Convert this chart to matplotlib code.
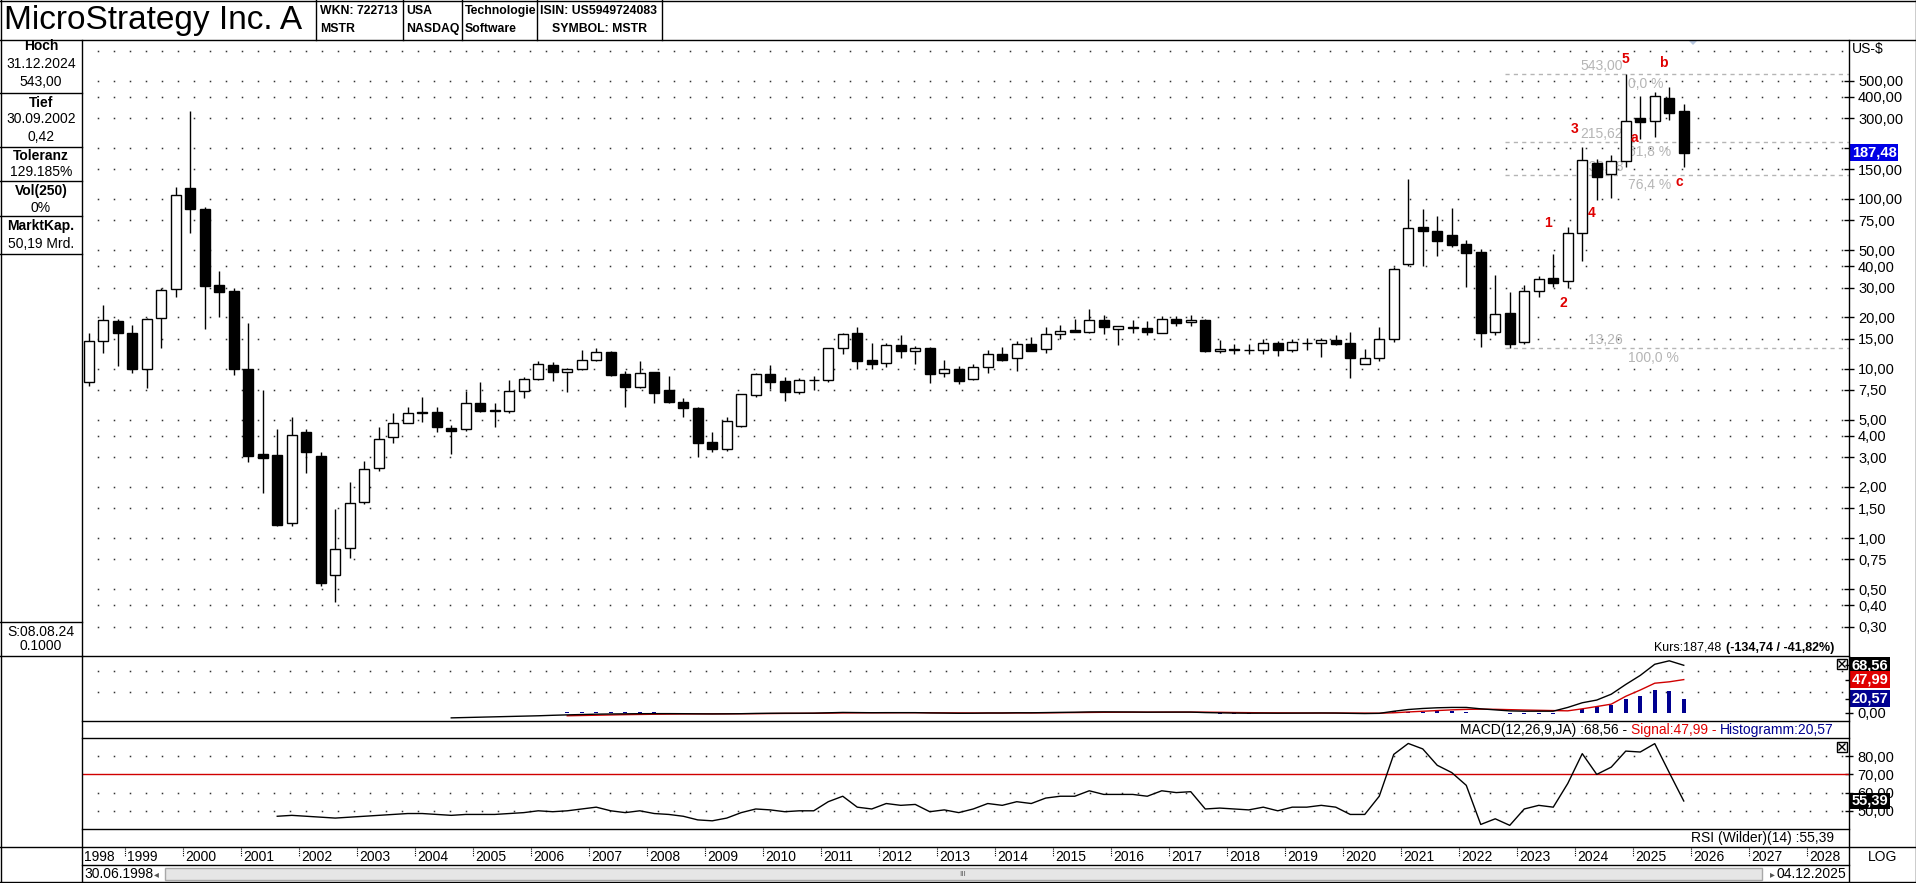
import numpy as np
import matplotlib
matplotlib.use("Agg")
import matplotlib.pyplot as plt
from matplotlib.lines import Line2D
from matplotlib.patches import Rectangle, Polygon

W, H = 1916, 883
plt.rcParams['font.family'] = ['Liberation Sans', 'DejaVu Sans']

# ---- quarterly candles, 1998 Q2 .. 2025 Q4 (split adjusted, US-$) ----
first_year = 1998
first_quarter = 2
opens = [8.3, 14.6, 19.1, 16.3, 9.9, 19.8, 29.3, 116.6, 86.9, 31.0,
         28.6, 9.89, 3.13, 3.09, 1.22, 4.20, 3.05, 0.605, 0.877, 1.62,
         2.60, 3.94, 4.79, 5.49, 5.56, 4.44, 4.38, 6.28, 5.70, 5.62,
         7.37, 8.67, 10.5, 9.50, 10.0, 11.2, 12.5, 9.24, 7.75, 9.50,
         7.47, 6.32, 5.82, 3.67, 3.34, 4.60, 6.98, 9.24, 8.44, 7.30,
         8.50, 8.50, 13.3, 16.1, 11.2, 10.8, 13.8, 12.7, 13.3, 9.37,
         10.0, 8.64, 10.2, 12.1, 11.5, 13.9, 13.0, 15.9, 16.9, 16.5,
         19.3, 17.2, 17.3, 17.3, 16.3, 19.5, 18.8, 19.2, 12.7, 13.1,
         12.9, 12.8, 14.1, 12.8, 14.2, 14.1, 14.7, 14.1, 10.7, 11.6,
         14.9, 41.4, 68.1, 65.0, 61.3, 54.3, 48.9, 16.5, 21.2, 14.3,
         28.7, 34.1, 33.0, 63.0, 162.5, 139.9, 167.5, 299, 290, 393,
         330]
highs = [16.1, 23.6, 19.5, 18.1, 19.8, 29.7, 118, 332, 90.1, 37.8,
         29.7, 18.6, 7.47, 4.40, 5.2, 4.40, 3.23, 1.48, 2.15, 2.85,
         4.50, 5.44, 5.95, 6.82, 5.95, 4.64, 7.37, 8.36, 6.28, 8.55,
         8.95, 11.0, 10.9, 10.1, 12.9, 13.3, 12.6, 9.67, 11.1, 9.6,
         9.03, 6.67, 5.9, 4.2, 5.15, 7.1, 9.45, 10.5, 8.87, 8.8,
         9.0, 13.3, 16.1, 17.5, 14.1, 14.1, 15.8, 13.5, 13.4, 11.3,
         10.3, 10.7, 12.9, 13.4, 14.5, 15.3, 17.5, 18.1, 19.6, 22.4,
         20.7, 17.8, 19.3, 19.0, 20.4, 20.4, 20.6, 19.6, 14.7, 14.0,
         13.9, 15.0, 14.6, 14.9, 15.1, 15.1, 15.7, 16.4, 13.0, 17.5,
         39.5, 131, 86.9, 79.4, 88.2, 57.3, 50.5, 35.6, 28.4, 31.1,
         35.1, 47.2, 68.1, 202, 171.5, 181, 543, 405, 430, 456,
         364]
lows = [7.9, 12.3, 10.3, 9.37, 7.64, 13.2, 26.5, 63.3, 17.1, 20.2,
        9.16, 2.80, 1.84, 1.18, 1.18, 2.41, 0.52, 0.42, 0.76, 1.59,
        2.48, 3.62, 4.75, 4.86, 4.24, 3.12, 4.30, 5.55, 4.53, 5.50,
        6.67, 8.6, 8.47, 7.30, 9.8, 11.1, 9.05, 5.95, 7.7, 6.28,
        6.3, 5.2, 2.99, 3.22, 3.27, 4.5, 6.76, 7.57, 6.46, 7.1,
        7.47, 8.36, 12.2, 9.9, 9.9, 10.2, 11.5, 10.7, 8.25, 8.95,
        8.10, 8.55, 9.37, 11.0, 9.7, 12.6, 12.4, 14.9, 16.4, 16.3,
        16.0, 13.8, 16.3, 15.7, 16.2, 17.9, 17.9, 12.5, 12.3, 12.1,
        12.2, 12.2, 11.8, 12.5, 12.9, 11.7, 13.7, 8.83, 10.6, 11.1,
        14.3, 40.4, 40.4, 46.1, 52.0, 30.1, 13.4, 15.7, 13.26, 13.9,
        26.3, 30.4, 29.9, 43.3, 98.7, 101, 155, 226, 233, 292,
        154]
closes = [14.6, 19.3, 16.3, 10.0, 19.6, 29.0, 105.6, 87.3, 30.8, 28.2,
          9.89, 3.05, 2.95, 1.20, 4.04, 3.22, 0.54, 0.86, 1.60, 2.55,
          3.82, 4.79, 5.49, 5.52, 4.50, 4.30, 6.28, 5.64, 5.60, 7.37,
          8.67, 10.6, 9.58, 10.0, 11.2, 12.5, 9.16, 7.81, 9.37, 7.20,
          6.37, 5.82, 3.62, 3.34, 4.92, 7.04, 9.24, 8.36, 7.30, 8.55,
          8.55, 13.2, 15.9, 11.1, 10.6, 13.8, 12.7, 13.3, 9.24, 9.9,
          8.47, 10.2, 12.1, 11.2, 13.9, 12.7, 15.9, 16.6, 16.5, 19.3,
          17.6, 17.7, 17.5, 16.5, 19.5, 18.5, 19.2, 12.7, 13.1, 12.9,
          12.8, 14.1, 12.8, 14.3, 14.2, 14.7, 13.9, 11.6, 11.6, 14.9,
          38.5, 67.2, 65.0, 56.8, 53.5, 47.8, 16.1, 21.0, 13.9, 28.8,
          33.6, 32.1, 62.8, 170, 135.4, 167.5, 288.6, 286, 405, 320.5,
          187.48]

nan = np.nan
# MACD(12,26,9) starts at 2004 Q3, signal/histogram at 2006 Q3
macd = [nan] * 25 + [
    -7, -6.5, -6, -5.5, -5, -4.5, -4, -3.3, -2.7, -2.2,
    -1.7, -1.4, -1.2, -1, -0.9, -0.9, -1, -1.2, -1.3, -1.2,
    -1, -0.6, -0.4, -0.3, -0.3, -0.2, 0.3, 0.8, 0.6, 0.4,
    0.5, 0.5, 0.5, 0.1, -0.1, -0.4, -0.3, 0, 0, 0.3,
    0.3, 0.6, 0.9, 1.1, 1.5, 1.6, 1.5, 1.4, 1.2, 1.3,
    1.3, 1.3, 0.6, 0.2, -0.1, -0.3, -0.2, -0.3, -0.2, -0.1,
    0, -0.1, -0.5, -0.8, -0.5, 2.5, 5, 6.5, 7.5, 8,
    8, 6, 4.5, 3, 2.6, 2.6, 2.6, 8, 14.7, 18.6,
    27, 41, 54, 70, 75, 68.56]
signal = [nan] * 33 + [
    -4, -3.6, -3.2, -2.8, -2.4, -2.1, -1.8, -1.6, -1.4, -1.3,
    -1.3, -1.2, -1.1, -1, -0.8, -0.6, -0.5, -0.4, -0.2, 0.1,
    0.2, 0.3, 0.3, 0.4, 0.4, 0.3, 0.2, 0.1, 0, 0,
    0, 0.1, 0.1, 0.2, 0.4, 0.6, 0.8, 1, 1.1, 1.2,
    1.2, 1.2, 1.3, 1.3, 1.2, 1, 0.7, 0.5, 0.3, 0.2,
    0.1, 0, 0, 0, -0.1, -0.2, -0.3, 0.3, 1.5, 2.5,
    3.5, 4.5, 5.2, 5.5, 5.3, 4.8, 4.3, 3.9, 3.5, 3.1,
    6, 9.3, 12.7, 24, 33, 42.8, 44.8, 47.99]
hist = [nan] * 33 + [
    1.3, 1.4, 1.5, 1.4, 1.2, 1.1, 0.9, 0.7, 0.4, 0.1,
    0, 0, 0.1, 0.4, 0.4, 0.3, 0.2, 0.2, 0.5, 0.7,
    0.4, 0.1, 0.2, 0.1, 0.1, -0.2, -0.3, -0.5, -0.3, 0,
    0, 0.2, 0.2, 0.4, 0.5, 0.5, 0.7, 0.6, 0.4, 0.2,
    0, 0.1, 0, 0, -0.6, -0.8, -0.8, -0.8, -0.5, -0.5,
    -0.3, -0.1, 0, -0.1, -0.4, -0.6, -0.2, 2.2, 2, 2,
    2.8, 2.8, 1.6, 0.5, -0.5, -1.5, -1.5, -1.3, -0.9, 0.5,
    5.7, 9, 12, 20, 25, 33, 31, 20.57]
rsi = [nan] * 13 + [
    47, 47.5, 47, 46.5, 46, 46.5, 47, 47.5,
    48, 48.5, 48.5, 48, 47.5, 48, 48, 48, 48.5, 49,
    50, 49.5, 50, 51, 52, 50, 49, 50, 48.5, 48,
    47, 45, 44.5, 46, 49, 51, 50.5, 49.5, 50, 50,
    55, 58, 52, 51, 54, 53, 53.5, 49.5, 50.5, 49,
    51, 54, 53, 55, 54, 57, 58, 58, 61, 59,
    59, 59, 58, 61, 60, 60.5, 51, 51.5, 51, 50.5,
    52, 50, 52, 52, 53, 52, 48, 48, 58, 81,
    87, 84, 75, 71, 64, 42.5, 45.6, 42, 51, 53,
    52, 65, 81.4, 70, 74, 82.8, 82.3, 86.9, 71, 55.39]

# Fibonacci retracement 13,26 -> 543,00
fib_prices = [543.00, 215.62, 138.28, 13.26]
fib_pcts = ['0,0 %', '61,8 %', '76,4 %', '100,0 %']
fib_start = 2022.8

# Elliott wave counts
wave_names = ['1', '2', '3', '4', '5', 'a', 'b', 'c']
wave_x = [2023.53, 2023.79, 2024.0, 2024.29, 2024.87, 2025.02, 2025.53, 2025.79]
wave_y = [72.2, 24.3, 259, 82.7, 670, 230, 635, 126]

price_ticks = [0.3, 0.4, 0.5, 0.75, 1, 1.5, 2, 3, 4, 5, 7.5, 10, 15, 20, 30,
               40, 50, 75, 100, 150, 200, 300, 400, 500]
grid_levels = price_ticks + [750]
years = list(range(1999, 2029))
last_price = 187.48


def fmt(v):
    return f"{v:.2f}".replace('.', ',')


def yr(px):
    # pixel column -> time (years); 2000 starts at px 183, 58 px per year
    return 2000 + (px - 183) / 58.0


fig = plt.figure(figsize=(W / 100, H / 100), dpi=100)
fig.patch.set_facecolor('white')


def add_ax(x0, y0, x1, y1):
    a = fig.add_axes([x0 / W, 1 - y1 / H, (x1 - x0) / W, (y1 - y0) / H])
    for s in a.spines.values():
        s.set_visible(False)
    a.set_xlim(yr(x0), yr(x1))
    a.set_xticks([])
    a.patch.set_alpha(0)
    return a


def fline(x0, y0, x1, y1, color='k', lw=1, **kw):
    fig.add_artist(Line2D([x0 / W, x1 / W], [1 - y0 / H, 1 - y1 / H],
                          color=color, lw=lw, **kw))


def ftext(x, y, s, **kw):
    return fig.text(x / W, 1 - y / H, s, **kw)


def dots(a, levels):
    xs = np.array([yr(p) for p in range(98, 1845, 16)])
    xg = np.array([yr(p + 8) for p in range(90, 1845, 16)])
    for lv in levels:
        a.plot(xg, [lv] * len(xg), ls='none', marker='s', ms=1.6,
               mfc='#dcdcdc', mec='none', zorder=0.5)
        a.plot(xs, [lv] * len(xs), ls='none', marker='s', ms=1.0,
               mfc='#333333', mec='none', zorder=0.6)


n = len(opens)
qx = first_year + (first_quarter - 1) * 0.25 + 0.125 + 0.25 * np.arange(n)
o = np.array(opens)
h = np.array(highs)
l = np.array(lows)
c = np.array(closes)

# ---------------- main price chart ----------------
ax = add_ax(82, 40, 1849, 656)
ax.set_yscale('log')
ax.set_ylim(10 ** ((538 - 656) / 169.5), 10 ** ((538 - 40) / 169.5))
ax.yaxis.tick_right()
# the 200,00 label sits under the last-price box
ax.set_yticks(price_ticks, labels=['' if v == 200 else fmt(v) for v in price_ticks])
ax.minorticks_off()
ax.tick_params(axis='y', direction='inout', length=7, width=1, labelsize=10.5, pad=3)
dots(ax, grid_levels)

ax.hlines(fib_prices, fib_start, yr(1849), colors='#b5b5b5',
          linestyles=(0, (3, 3)), lw=1, zorder=1)
for p, pct in zip(fib_prices, fib_pcts):
    ax.annotate(fmt(p), (yr(1623), p), xytext=(0, 8), textcoords='offset pixels',
                ha='right', va='center', color='#b5b5b5', fontsize=10, zorder=1)
    ax.annotate(pct, (yr(1628), p), xytext=(0, -10), textcoords='offset pixels',
                ha='left', va='center', color='#b5b5b5', fontsize=10, zorder=1)

up = c >= o
ax.vlines(qx, l, h, color='k', lw=1, zorder=3)
ax.bar(qx, np.abs(c - o), bottom=np.minimum(o, c), width=0.17,
       color=np.where(up, 'white', 'black'), edgecolor='k', linewidth=1, zorder=4)

for name, wx, wy in zip(wave_names, wave_x, wave_y):
    ax.text(wx, wy, name, color='#e00000', fontsize=10, fontweight='bold',
            ha='center', va='center', zorder=5)

ax.text(1.0015, last_price, fmt(last_price), transform=ax.get_yaxis_transform(),
        ha='left', va='center', color='white', fontweight='bold', fontsize=10.5,
        bbox=dict(boxstyle='square,pad=0.1', fc='#0000e6', ec='none'),
        zorder=10, clip_on=False)
ftext(1852, 49, 'US-$', fontsize=10, va='center')
fig.add_artist(Polygon([[1688 / W, 1 - 40 / H], [1698 / W, 1 - 40 / H], [1693 / W, 1 - 45 / H]],
                       closed=True, transform=fig.transFigure, fc='#b8c8e0', ec='none'))

# ---------------- MACD ----------------
mac = add_ax(82, 656, 1849, 721)
mac.set_ylim(-11.5, 81.9)
mac.yaxis.tick_right()
mac.set_yticks([0, 20.57, 47.99, 68.56], labels=['0,00', '', '', ''])
mac.tick_params(axis='y', direction='inout', length=6, width=1, labelsize=10.5, pad=3)
dots(mac, [30, 60])
mac.bar(qx, hist, width=0.07, color='#000090', zorder=3)
mac.plot(qx, signal, color='#d00000', lw=1, zorder=4)
mac.plot(qx, macd, color='k', lw=1, zorder=5)
for v, col in [(68.56, 'black'), (47.99, '#e00000'), (20.57, '#000090')]:
    mac.text(1.0015, v, fmt(v), transform=mac.get_yaxis_transform(), ha='left',
             va='center', color='white', fontweight='bold', fontsize=10.5,
             bbox=dict(boxstyle='square,pad=0.1', fc=col, ec='none'),
             zorder=10, clip_on=False)

# ---------------- RSI ----------------
rs = add_ax(82, 738, 1849, 829)
rs.set_ylim(40, 90)
rs.yaxis.tick_right()
rs.set_yticks([50, 60, 70, 80], labels=['50,00', '60,00', '70,00', '80,00'])
rs.tick_params(axis='y', direction='inout', length=6, width=1, labelsize=10.5, pad=3)
dots(rs, [50, 60, 80])
rs.axhline(70, color='#d00000', lw=1, zorder=2)
rs.plot(qx, rsi, color='k', lw=1, zorder=4)
rs.text(1.0015, 55.39, '55,39', transform=rs.get_yaxis_transform(), ha='left',
        va='center', color='white', fontweight='bold', fontsize=10.5,
        bbox=dict(boxstyle='square,pad=0.1', fc='black', ec='none'),
        zorder=10, clip_on=False)

# close boxes of the sub panels
for ty in (659, 742):
    fig.add_artist(Rectangle((1837 / W, 1 - (ty + 10) / H), 10 / W, 10 / H,
                             transform=fig.transFigure, fill=False, ec='k', lw=1))
    fline(1839, ty + 2, 1845, ty + 8)
    fline(1845, ty + 2, 1839, ty + 8)

# ---------------- frame ----------------
fline(0, 0.5, W, 0.5)
fline(0.5, 0, 0.5, H)
fline(W - 0.5, 0, W - 0.5, H)
fline(0, H - 1, W, H - 1)
fline(0, 39.5, W, 39.5)
fline(82, 39.5, 82, H)
fline(1849, 39.5, 1849, H)
for yy in (656, 721, 738, 829, 865):
    fline(82, yy, 1849, yy)
fline(0, 847, W, 847)
for yy in (93, 147, 181, 216, 254, 622, 656):
    fline(0, yy, 82, yy)
for xx in (316, 403, 462, 537, 662):
    fline(xx, 0, xx, 39.5)

# ---------------- header ----------------
ftext(4, 21, 'MicroStrategy Inc. A', fontsize=24, va='center')
cells = [(320, 'WKN: 722713', 'MSTR'), (406, 'USA', 'NASDAQ'),
         (465, 'Technologie', 'Software')]
for x, t1, t2 in cells:
    ftext(x, 11, t1, fontsize=8.8, fontweight='bold', va='center')
    ftext(x, 29, t2, fontsize=8.8, fontweight='bold', va='center')
ftext(540, 11, 'ISIN: US5949724083', fontsize=8.8, fontweight='bold', va='center')
ftext(600, 29, 'SYMBOL: MSTR', fontsize=8.8, fontweight='bold', va='center', ha='center')

# ---------------- left info column ----------------
info = [(46, 'Hoch', True), (64, '31.12.2024', False), (82, '543,00', False),
        (103, 'Tief', True), (119, '30.09.2002', False), (137, '0,42', False),
        (156, 'Toleranz', True), (172, '129.185%', False),
        (191, 'Vol(250)', True), (208, '0%', False),
        (226, 'MarktKap.', True), (244, '50,19 Mrd.', False),
        (632, 'S:08.08.24', False), (646, '0.1000', False)]
for yy, s, bold in info:
    ftext(41, yy, s, fontsize=10, ha='center', va='center',
          fontweight='bold' if bold else 'normal')

# ---------------- time axis ----------------
ftext(84, 857, '1998', fontsize=10, va='center')
for y in years:
    px = 183 + (y - 2000) * 58
    fline(px, 848, px, 856, lw=0.8, ls=(0, (1, 1)))
    ftext(px + 2, 857, str(y), fontsize=10, va='center')
ftext(1883, 857, 'LOG', fontsize=10, va='center', ha='center')

# scroll bar
ftext(84, 874, '30.06.1998', fontsize=10, va='center')
ftext(156, 874, '\u25c2', fontsize=7, va='center', ha='center', color='#555555')
fig.add_artist(Rectangle((165 / W, 1 - 880 / H), (1762 - 165) / W, 12 / H,
                         transform=fig.transFigure, fc='#e6e6e6', ec='#a8a8a8', lw=1))
ftext(963, 874, 'III', fontsize=6, va='center', ha='center', color='#666666')
ftext(1772, 874, '\u25b8', fontsize=7, va='center', ha='center', color='#555555')
ftext(1846, 874, '04.12.2025', fontsize=10, va='center', ha='right')

# ---------------- multi-colour captions ----------------
renderer = fig.canvas.get_renderer()


def rich_right(x_right, y, parts, size, gap):
    x = x_right
    for txt, col, wt in reversed(parts):
        t = ftext(x, y, txt, fontsize=size, ha='right', va='center', color=col, fontweight=wt)
        x -= t.get_window_extent(renderer).width + gap


rich_right(1834, 648, [('Kurs:187,48', 'black', 'normal'),
                       ('(-134,74 / -41,82%)', 'black', 'bold')], 9, 4)
rich_right(1834, 730, [('MACD(12,26,9,JA) :68,56 -', 'black', 'normal'),
                       ('Signal:47,99 -', '#e00000', 'normal'),
                       ('Histogramm:20,57', '#000090', 'normal')], 10, 4)
rich_right(1834, 838, [('RSI (Wilder)(14) :55,39', 'black', 'normal')], 10, 4)

fig.savefig('out.png', dpi=100)
